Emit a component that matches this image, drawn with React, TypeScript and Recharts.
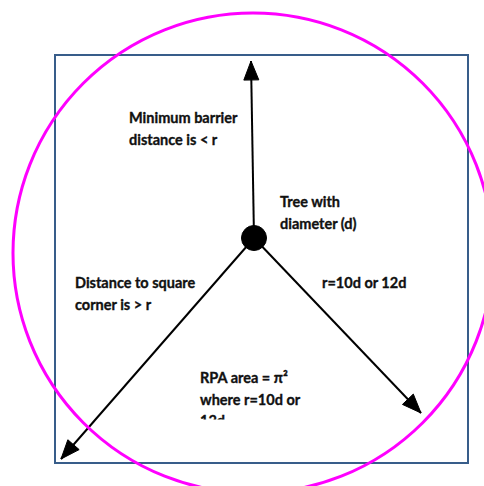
import React from 'react';
import {
  ComposedChart,
  XAxis,
  YAxis,
  ReferenceArea,
  ReferenceDot,
  ReferenceLine,
  Scatter,
} from 'recharts';

// Diagram geometry (in diagram units; axes map 1 unit -> 1 px)
const treeCenter = { x: 254, y: 238 };
const treeRadius = 12.5;
const rpaCircle = { x: 253, y: 253, r: 240 };
const squareBox = { x1: 55, x2: 468, y1: 55, y2: 463 };
const arrowTips = [
  { x: 251, y: 61 },
  { x: 61, y: 459 },
  { x: 421, y: 413 },
];

// Text labels
const labelX = [129, 280, 75, 322, 200];
const labelY = [123, 207, 288, 288, 383];
const labelLines = [
  ['Minimum barrier', 'distance is < r'],
  ['Tree with', 'diameter (d)'],
  ['Distance to square', 'corner is > r'],
  ['r=10d or 12d'],
  ['RPA area = π²', 'where r=10d or', '12d'],
];
const labelClipBottom = [null, null, null, null, 419.5];

const arrowData = arrowTips.map((t) => ({ x: t.x, y: t.y, fx: treeCenter.x, fy: treeCenter.y }));
const labelData = labelX.map((x, i) => ({
  x,
  y: labelY[i],
  lines: labelLines[i],
  clip: labelClipBottom[i],
  id: i,
}));

const LINE_GAP = 21.5;

const ArrowHead = (props: any) => {
  const { cx, cy, payload } = props;
  if (cx == null || cy == null) return null;
  const ang = Math.atan2(payload.y - payload.fy, payload.x - payload.fx);
  const L = 19;
  const W = 7.5;
  const bx = cx - L * Math.cos(ang);
  const by = cy - L * Math.sin(ang);
  const px = -Math.sin(ang) * W;
  const py = Math.cos(ang) * W;
  const pts = `${cx},${cy} ${bx + px},${by + py} ${bx - px},${by - py}`;
  return <polygon points={pts} fill="#000" stroke="#000" strokeWidth={1} strokeLinejoin="miter" />;
};

const TextBlock = (props: any) => {
  const { cx, cy, payload } = props;
  if (cx == null || cy == null) return null;
  const clipId = `lblclip-${payload.id}`;
  const hasClip = payload.clip != null;
  return (
    <g>
      {hasClip && (
        <defs>
          <clipPath id={clipId}>
            <rect x={cx - 10} y={cy - 40} width={300} height={payload.clip - payload.y + 40} />
          </clipPath>
        </defs>
      )}
      <text
        x={cx}
        y={cy}
        fontFamily="Lato, 'Open Sans', sans-serif"
        fontWeight={700}
        fontSize={14.5}
        fill="#111"
        stroke="#111"
        strokeWidth={0.35}
        clipPath={hasClip ? `url(#${clipId})` : undefined}
      >
        {payload.lines.map((s: string, i: number) => (
          <tspan key={i} x={cx} y={cy + i * LINE_GAP}>
            {s}
          </tspan>
        ))}
      </text>
    </g>
  );
};

export default function App() {
  return (
    <div style={{ position: 'fixed', left: 0, top: 0, background: '#fff' }}>
      <ComposedChart width={484} height={486} margin={{ top: 0, right: 0, bottom: 0, left: 0 }}>
        <XAxis type="number" dataKey="x" domain={[0, 484]} hide allowDataOverflow />
        <YAxis type="number" dataKey="y" domain={[0, 486]} reversed hide allowDataOverflow />
        <ReferenceArea
          x1={squareBox.x1}
          x2={squareBox.x2}
          y1={squareBox.y1}
          y2={squareBox.y2}
          fill="none"
          fillOpacity={0}
          stroke="#385D8A"
          strokeWidth={2}
          ifOverflow="visible"
        />
        <ReferenceDot
          x={rpaCircle.x}
          y={rpaCircle.y}
          r={rpaCircle.r}
          fill="none"
          stroke="#FF00FF"
          strokeWidth={3}
          ifOverflow="visible"
        />
        {arrowTips.map((t, i) => (
          <ReferenceLine
            key={i}
            segment={[
              { x: treeCenter.x, y: treeCenter.y },
              { x: t.x, y: t.y },
            ]}
            stroke="#000"
            strokeWidth={2}
            ifOverflow="visible"
          />
        ))}
        <Scatter data={arrowData} dataKey="y" shape={ArrowHead} isAnimationActive={false} />
        <ReferenceDot
          x={treeCenter.x}
          y={treeCenter.y}
          r={treeRadius}
          fill="#000"
          stroke="#000"
          ifOverflow="visible"
        />
        <Scatter data={labelData} dataKey="y" shape={TextBlock} isAnimationActive={false} />
      </ComposedChart>
    </div>
  );
}
